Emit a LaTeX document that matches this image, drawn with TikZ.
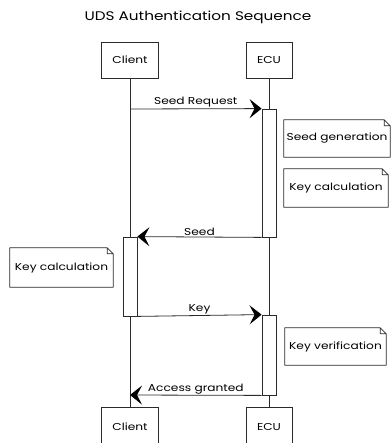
\documentclass[tikz,border=0pt]{standalone}
\usepackage{fontspec}
\setmainfont[FakeStretch=1.22]{Poppins}
\usetikzlibrary{arrows.meta}
\definecolor{ink}{HTML}{2A2A2A}
\begin{document}
\begin{tikzpicture}[x=1pt,y=-1pt,
  line/.style={draw=ink, line width=0.8pt},
  actor/.style={line, fill=white, inner sep=0pt, font=\fontsize{10}{12}\selectfont},
  actbox/.style={line, fill=white, inner sep=0pt, minimum width=14pt},
  msg/.style={line, -{Stealth[length=12pt,width=19pt,inset=5pt,black]}},
  lbl/.style={font=\fontsize{10}{12}\selectfont, inner sep=1pt, anchor=south},
  notebox/.style={inner sep=0pt, font=\fontsize{10}{12}\selectfont,
    append after command={\pgfextra{
      \draw[line, line join=round]
        (\tikzlastnode.north west) -- ([xshift=-6pt]\tikzlastnode.north east)
        -- ([yshift=-6pt]\tikzlastnode.north east) -- (\tikzlastnode.south east)
        -- (\tikzlastnode.south west) -- cycle
        ([xshift=-6pt]\tikzlastnode.north east) -- ([xshift=-6pt,yshift=-6pt]\tikzlastnode.north east)
        -- ([yshift=-6pt]\tikzlastnode.north east);
    }}}
]
\useasboundingbox (0,0) rectangle (390,443);

% title
\node[font=\fontsize{12.5}{15}\selectfont] (title) at (198,17) {UDS Authentication Sequence};

% actors
\node[actor, minimum width=57pt, minimum height=36pt] (ct) at (130,60) {Client};
\node[actor, minimum width=46pt, minimum height=36pt] (et) at (269,60) {ECU};
\node[actor, minimum width=57pt, minimum height=40pt] (cb) at (130,427) {Client};
\node[actor, minimum width=46pt, minimum height=40pt] (eb) at (269,427) {ECU};

% lifelines
\draw[line] (ct.south) -- (cb.north);
\draw[line] (et.south) -- (eb.north);

% activation boxes
\node[actbox, minimum height=128pt] (a1) at (269,173) {};
\node[actbox, minimum height=79pt] (a2) at (130,276.5) {};
\node[actbox, minimum height=80pt] (a3) at (269,355) {};

% lifeline points
\coordinate (c1) at (130,109);
\coordinate (c4) at (130,395);

% messages
\draw[msg] (c1) -- node[lbl] {Seed Request} (a1.north west);
\draw[msg] (a1.south west) -- node[lbl] {Seed} (a2.north east);
\draw[msg] (a2.south east) -- node[lbl] {Key} (a3.north west);
\draw[msg] (a3.south west) -- node[lbl] {Access granted} (c4);

% notes
\node[notebox, minimum width=106pt, minimum height=37pt] (n1) at (337,138.5) {Seed generation};
\node[notebox, minimum width=104pt, minimum height=38pt] (n2) at (336,188) {Key calculation};
\node[notebox, minimum width=103pt, minimum height=39pt] (n3) at (61.5,267.5) {Key calculation};
\node[notebox, minimum width=101pt, minimum height=37pt] (n4) at (335.5,346.5) {Key verification};
\end{tikzpicture}
\end{document}
